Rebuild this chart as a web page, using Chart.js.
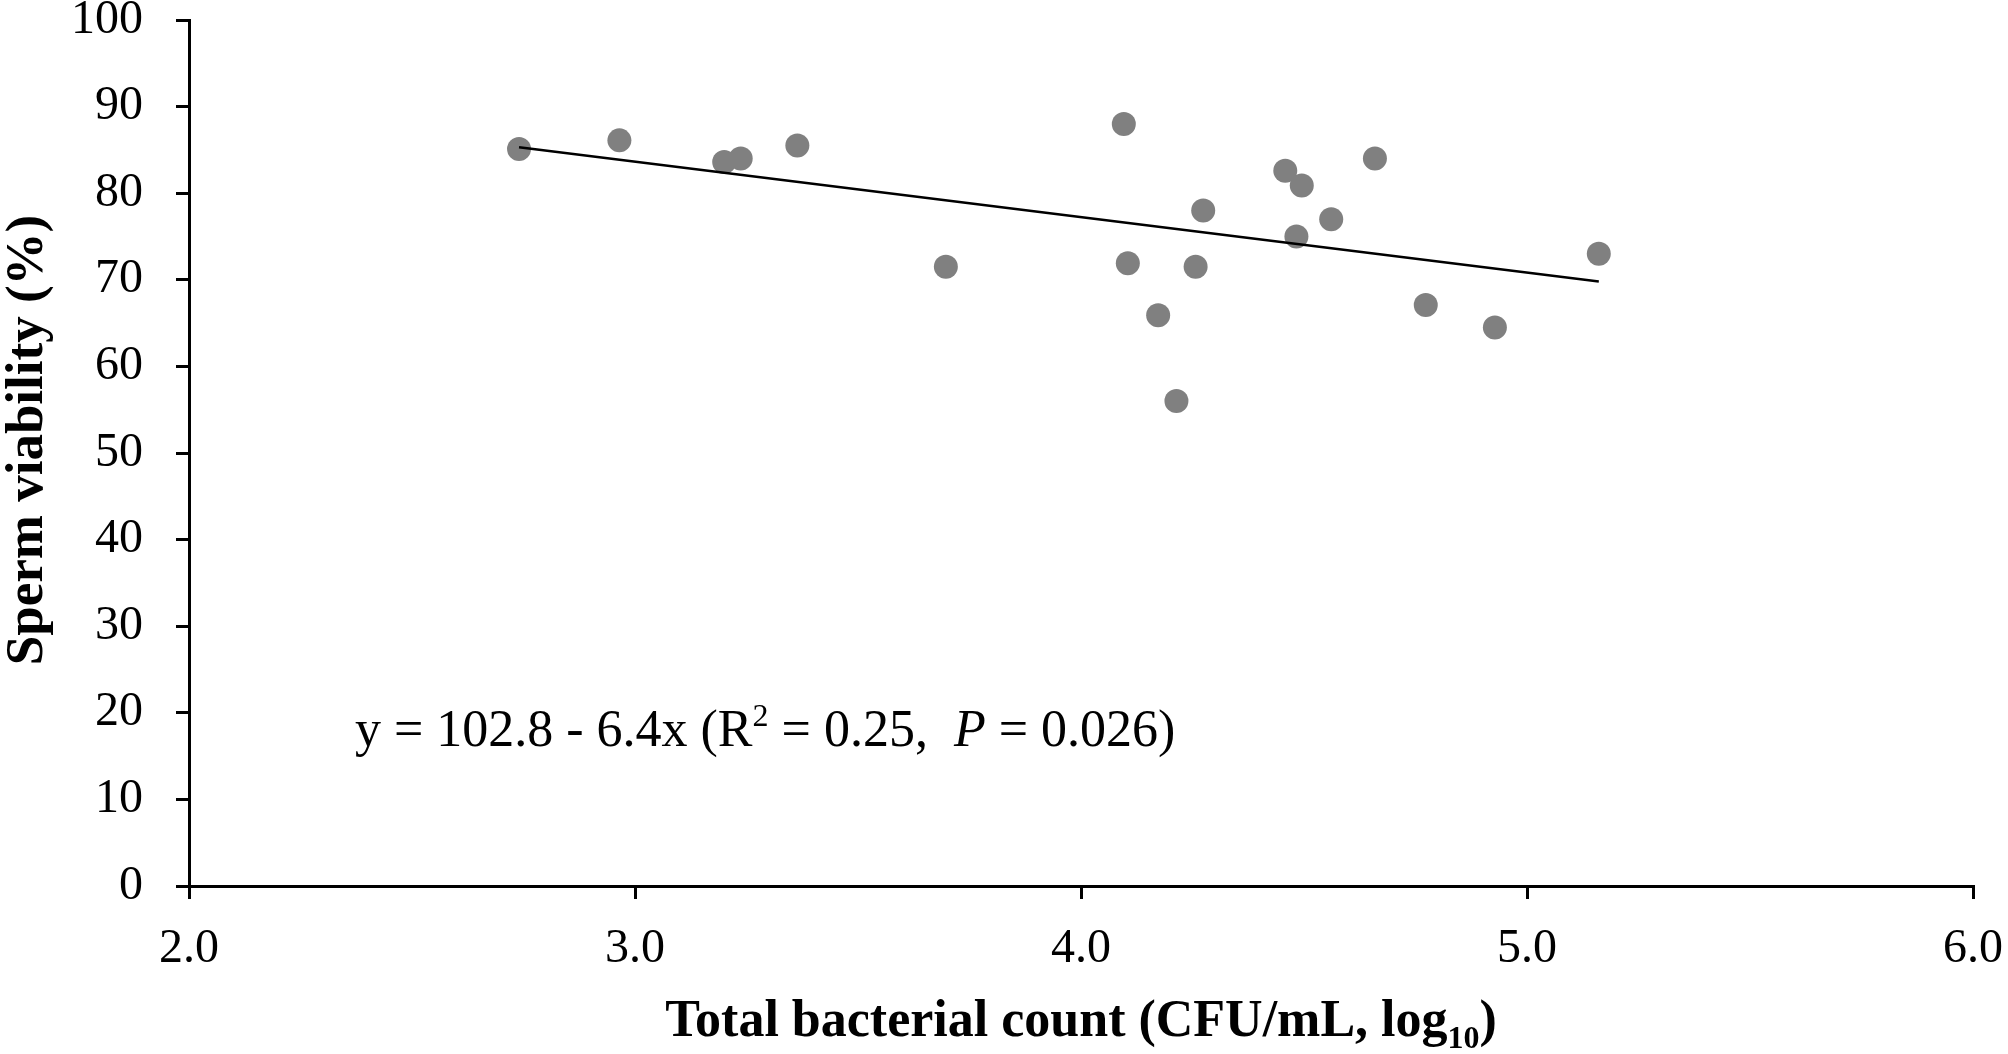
<!DOCTYPE html>
<html>
<head>
<meta charset="utf-8">
<script src="https://cdn.jsdelivr.net/npm/chart.js@4/dist/chart.umd.min.js"></script>
<style>
  html, body { margin: 0; padding: 0; background: #fff; }
  #chart { display: block; }
</style>
</head>
<body>
<canvas id="chart" width="2008" height="1054"></canvas>
<script>
// bacterial count (log10 CFU/mL) vs sperm viability (%)
const countLog = [2.74, 2.965, 3.2, 3.237, 3.364, 3.697, 4.096, 4.105, 4.173, 4.214,
                  4.257, 4.274, 4.458, 4.483, 4.495, 4.561, 4.659, 4.773, 4.928, 5.161];
const viability = [85.1, 86.1, 83.6, 84.0, 85.5, 71.5, 88.0, 71.9, 65.9, 56.0,
                   71.5, 78.0, 82.6, 75.0, 80.9, 77.0, 84.0, 67.1, 64.5, 73.0];

// fitted line end points, as drawn
const fitX = [2.74, 5.161];
const fitY = [85.3, 69.8];

const xTicks = [2, 3, 4, 5, 6];
const yTicks = [0, 10, 20, 30, 40, 50, 60, 70, 80, 90, 100];

const serif = '"Liberation Serif", "Times New Roman", serif';

let points = countLog.map(function (x, i) { return { x: x, y: viability[i] }; });
let fitLine = fitX.map(function (x, i) { return { x: x, y: fitY[i] }; });

function drawRuns(ctx, runs, x, y, align) {
    // measure first so the whole run can be centred
    let total = 0;
    runs.forEach(function (r) {
        ctx.font = r.font;
        r.w = ctx.measureText(r.text).width;
        total += r.w;
    });
    let cx = align === "center" ? x - total / 2 : x;
    runs.forEach(function (r) {
        ctx.font = r.font;
        ctx.fillText(r.text, cx, y + (r.dy || 0));
        cx += r.w;
    });
}

const textPlugin = {
    id: "texts",
    afterDraw: function (chart) {
        let ctx = chart.ctx;
        let xs = chart.scales.x;
        let ys = chart.scales.y;
        let area = chart.chartArea;
        ctx.save();
        ctx.fillStyle = "#000";
        ctx.textBaseline = "alphabetic";
        ctx.textAlign = "left";

        // regression equation
        drawRuns(ctx, [
            { text: "y = 102.8 - 6.4x (R", font: "52px " + serif },
            { text: "2", font: "32px " + serif, dy: -20 },
            { text: " = 0.25,  ", font: "52px " + serif },
            { text: "P", font: "italic 52px " + serif },
            { text: " = 0.026)", font: "52px " + serif }
        ], xs.getPixelForValue(2.372), ys.getPixelForValue(16.2), "left");

        // x axis title
        drawRuns(ctx, [
            { text: "Total bacterial count (CFU/mL, log", font: "bold 52px " + serif },
            { text: "10", font: "bold 32px " + serif, dy: 12 },
            { text: ")", font: "bold 52px " + serif }
        ], (area.left + area.right) / 2, 1036, "center");

        // y axis title
        ctx.translate(42, 440);
        ctx.rotate(-Math.PI / 2);
        ctx.font = "bold 53px " + serif;
        ctx.textAlign = "center";
        ctx.fillText("Sperm viability (%)", 0, 0);
        ctx.restore();
    }
};

const axisGrid = {
    drawOnChartArea: false,
    drawTicks: true,
    tickLength: 13,
    color: "#000",
    lineWidth: 3
};

new Chart(document.getElementById("chart"), {
    type: "scatter",
    data: {
        datasets: [
            {
                type: "line",
                data: fitLine,
                borderColor: "#000",
                borderWidth: 2.5,
                pointRadius: 0,
                fill: false
            },
            {
                data: points,
                backgroundColor: "rgb(128, 128, 128)",
                borderWidth: 0,
                pointRadius: 12,
                pointHoverRadius: 12
            }
        ]
    },
    options: {
        responsive: false,
        animation: false,
        devicePixelRatio: 1,
        layout: { padding: { left: 0, right: 35, top: 20, bottom: 0 } },
        plugins: {
            legend: false,
            tooltip: { enabled: false }
        },
        scales: {
            x: {
                type: "linear",
                min: 2,
                max: 6,
                afterBuildTicks: function (scale) {
                    scale.ticks = xTicks.map(function (v) { return { value: v }; });
                },
                afterFit: function (scale) {
                    scale.height = 168;
                    scale.paddingLeft = 0;
                    scale.paddingRight = 0;
                },
                ticks: {
                    color: "#000",
                    padding: 22,
                    maxRotation: 0,
                    font: { family: serif, size: 48 },
                    callback: function (v) { return v.toFixed(1); }
                },
                grid: axisGrid,
                border: { color: "#000", width: 3 }
            },
            y: {
                min: 0,
                max: 100,
                afterBuildTicks: function (scale) {
                    scale.ticks = yTicks.map(function (v) { return { value: v }; });
                },
                afterFit: function (scale) {
                    scale.width = 189;
                    scale.paddingTop = 0;
                    scale.paddingBottom = 0;
                },
                ticks: {
                    color: "#000",
                    padding: 33,
                    font: { family: serif, size: 48 }
                },
                grid: axisGrid,
                border: { color: "#000", width: 3 }
            }
        }
    },
    plugins: [textPlugin]
});
</script>
</body>
</html>
